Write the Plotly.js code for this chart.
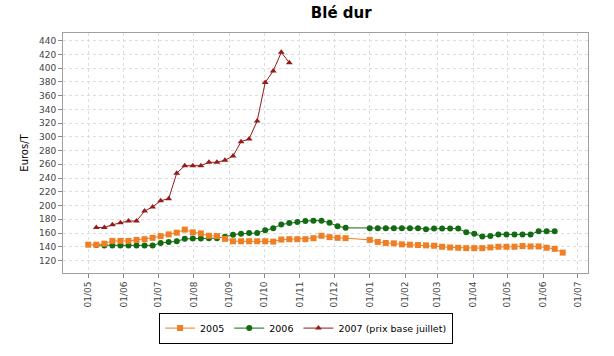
<!DOCTYPE html>
<html>
<head>
<meta charset="utf-8">
<script src="https://cdn.plot.ly/plotly-3.0.1.min.js"></script>
<style>html,body{margin:0;padding:0;background:#fff;}#chart{width:614px;height:356px;}</style>
</head>
<body>
<div id="chart"></div>
<script>
// Week dates on a common season axis (May -> next July)
const dates2005 = ['2005-05-01','2005-05-08','2005-05-15','2005-05-22','2005-05-29','2005-06-05','2005-06-12','2005-06-19','2005-06-26','2005-07-03','2005-07-10','2005-07-17','2005-07-24','2005-07-31','2005-08-07','2005-08-14','2005-08-21','2005-08-28','2005-09-04','2005-09-11','2005-09-18','2005-09-25','2005-10-02','2005-10-09','2005-10-16','2005-10-23','2005-10-30','2005-11-06','2005-11-13','2005-11-20','2005-11-27','2005-12-04','2005-12-11','2006-01-01','2006-01-08','2006-01-15','2006-01-22','2006-01-29','2006-02-05','2006-02-12','2006-02-19','2006-02-26','2006-03-05','2006-03-12','2006-03-19','2006-03-26','2006-04-02','2006-04-09','2006-04-16','2006-04-23','2006-04-30','2006-05-07','2006-05-14','2006-05-21','2006-05-28','2006-06-04','2006-06-11','2006-06-18'];
const values2005 = [143,143,144.5,148.5,148.5,148.5,150,151,153,155.5,158,160.5,165,161,159.5,156,155.5,151.5,148,148,148,148,148,147.5,150.5,151,151,151,152.5,156,154,153,152.5,150,147,145.5,145,143.5,143,142.5,142,141.5,140,139,138.5,138,138,138,139,140,140,140,141,140.5,140.5,138.5,137,131.5];

const dates2006 = ['2005-05-08','2005-05-15','2005-05-22','2005-05-29','2005-06-05','2005-06-12','2005-06-19','2005-06-26','2005-07-03','2005-07-10','2005-07-17','2005-07-24','2005-07-31','2005-08-07','2005-08-14','2005-08-21','2005-08-28','2005-09-04','2005-09-11','2005-09-18','2005-09-25','2005-10-02','2005-10-09','2005-10-16','2005-10-23','2005-10-30','2005-11-06','2005-11-13','2005-11-20','2005-11-27','2005-12-04','2005-12-11','2006-01-01','2006-01-08','2006-01-15','2006-01-22','2006-01-29','2006-02-05','2006-02-12','2006-02-19','2006-02-26','2006-03-05','2006-03-12','2006-03-19','2006-03-26','2006-04-02','2006-04-09','2006-04-16','2006-04-23','2006-04-30','2006-05-07','2006-05-14','2006-05-21','2006-05-28','2006-06-04','2006-06-11'];
const values2006 = [142.5,142,142,142,142,142,142,142,145.5,147,148,151.5,152,152,152.5,152.5,154.5,157.5,159,160,160,164,167,172.5,174.5,176,177.5,178,178,174.8,170,167.5,167,167,167,167,167,167,167,165.5,166.5,166.5,166.5,166.5,161,159,155,155.5,158,158,158,158,158,162.5,162.5,162.5];

const dates2007 = ['2005-05-08','2005-05-15','2005-05-22','2005-05-29','2005-06-05','2005-06-12','2005-06-19','2005-06-26','2005-07-03','2005-07-10','2005-07-17','2005-07-24','2005-07-31','2005-08-07','2005-08-14','2005-08-21','2005-08-28','2005-09-04','2005-09-11','2005-09-18','2005-09-25','2005-10-02','2005-10-09','2005-10-16','2005-10-23'];
const values2007 = [168,168,172,175,177.5,177.5,192,198,207,210,247,258,258,258,263,263,266,272,293,297,323,379,396,423,408];

const seriesNames = ['2005','2006','2007 (prix base juillet)'];
const titleText = 'Blé dur';
const yTitle = 'Euros/T';

const font = 'DejaVu Sans, sans-serif';
const traces = [
  {x: dates2006, y: values2006, name: seriesNames[1], type: 'scatter', mode: 'lines+markers', legendrank: 2,
   line: {color: '#126b12', width: 1}, marker: {symbol: 'circle', size: 6, color: '#126b12'}},
  {x: dates2007, y: values2007, name: seriesNames[2], type: 'scatter', mode: 'lines+markers', legendrank: 3,
   line: {color: '#961a1a', width: 1}, marker: {symbol: 'triangle-up', size: 6, color: '#961a1a'}},
  {x: dates2005, y: values2005, name: seriesNames[0], type: 'scatter', mode: 'lines+markers', legendrank: 1,
   line: {color: '#f07f24', width: 1}, marker: {symbol: 'square', size: 6, color: '#f07f24'}}
];

const layout = {
  width: 614, height: 356,
  margin: {l: 63, r: 26, t: 33, b: 73},
  paper_bgcolor: '#ffffff', plot_bgcolor: '#ffffff',
  font: {family: font, size: 9, color: '#444'},
  title: {text: '<b>' + titleText + '</b>', font: {family: font, size: 15, color: '#000'}, x: 0.53, xanchor: 'center', y: 0.963, yanchor: 'middle', xref: 'paper'},
  showlegend: true,
  legend: {orientation: 'h', x: 0.463, xanchor: 'center', y: -0.165, yanchor: 'top',
    bordercolor: '#000', borderwidth: 1, bgcolor: '#fff', font: {family: font, size: 9.5, color: '#000'},
    traceorder: 'normal', itemwidth: 30, tracegroupgap: 0},
  xaxis: {type: 'date', range: ['2005-04-09', '2006-07-10'], dtick: 'M1', tick0: '2005-05-01',
    tickformat: '%d/%m', tickangle: -90, ticks: 'outside', ticklen: 4, tickcolor: '#888',
    showgrid: true, gridcolor: '#dcdcdc', griddash: 'dot', gridwidth: 1,
    showline: true, linecolor: '#a0a0a0', linewidth: 1, mirror: true, zeroline: false,
    tickfont: {family: font, size: 9, color: '#444'}},
  yaxis: {range: [101.8, 451.2], dtick: 20, tick0: 0, ticks: 'outside', ticklen: 4, tickcolor: '#888',
    showgrid: true, gridcolor: '#dcdcdc', griddash: 'dot', gridwidth: 1,
    showline: true, linecolor: '#a0a0a0', linewidth: 1, mirror: true, zeroline: false,
    tickfont: {family: font, size: 9, color: '#444'},
    title: {text: yTitle, font: {family: font, size: 10, color: '#000'}, standoff: 8}}
};

Plotly.newPlot('chart', traces, layout, {displayModeBar: false, staticPlot: true});
</script>
</body>
</html>
